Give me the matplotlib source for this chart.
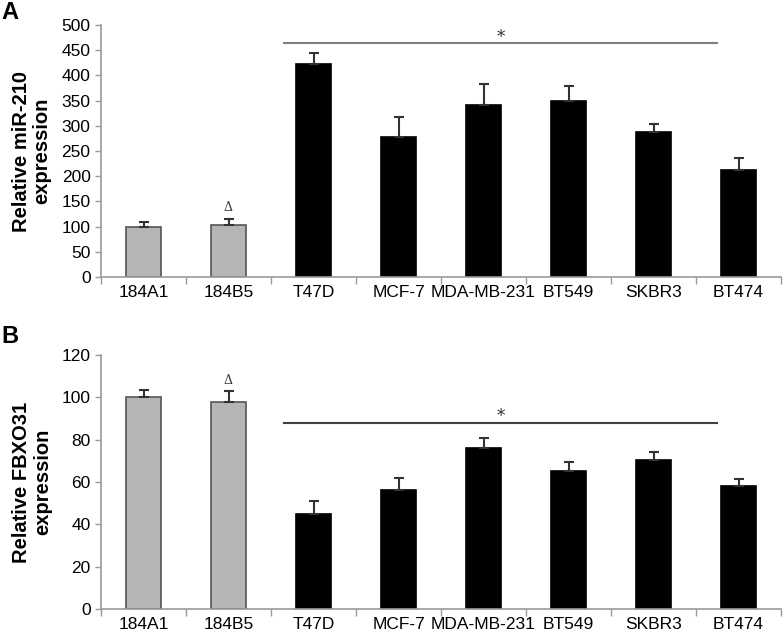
import matplotlib
matplotlib.use("Agg")
import matplotlib.pyplot as plt
import numpy as np

plt.rcParams["font.family"] = ["Liberation Sans", "DejaVu Sans"]

cell_lines = ["184A1", "184B5", "T47D", "MCF-7", "MDA-MB-231", "BT549", "SKBR3", "BT474"]
is_normal = [True, True, False, False, False, False, False, False]

mir210_mean = [100, 103, 423, 278, 341, 349, 287, 212]
mir210_err = [10, 12, 21, 39, 42, 30, 16, 25]

fbxo31_mean = [100, 98, 45, 56, 76, 65, 70.5, 58]
fbxo31_err = [3.5, 5, 6, 6, 5, 4.5, 3.5, 3.3]

panels = [
    dict(label="A", label_y=0.998, ylabel="Relative miR-210\nexpression", mean=mir210_mean,
         err=mir210_err, ymax=500, ystep=50, sig_y=464, star_y=476, delta_y=138,
         sig_color="#808080"),
    dict(label="B", label_y=0.487, ylabel="Relative FBXO31\nexpression", mean=fbxo31_mean,
         err=fbxo31_err, ymax=120, ystep=20, sig_y=88, star_y=91, delta_y=108,
         sig_color="#404040"),
]

fig = plt.figure(figsize=(7.83, 6.33), dpi=100)
rects = [[0.129, 0.5624, 0.8685, 0.3981], [0.129, 0.0379, 0.8685, 0.4013]]

x = np.arange(len(cell_lines))
colors = ["#b5b5b5" if n else "black" for n in is_normal]
edges = ["#555555" if n else "black" for n in is_normal]

for rect, p in zip(rects, panels):
    ax = fig.add_axes(rect)
    ax.bar(x, p["mean"], width=0.41, color=colors, edgecolor=edges, linewidth=1.2, zorder=2)
    ax.errorbar(x, p["mean"], yerr=[np.zeros(len(x)), p["err"]], fmt="none",
                ecolor="#333333", elinewidth=1.5, capsize=3.5, capthick=1.5, zorder=3)

    ax.set_xlim(-0.5, len(x) - 0.5)
    ax.set_ylim(0, p["ymax"])
    ax.set_yticks(np.arange(0, p["ymax"] + 1, p["ystep"]))
    ax.set_xticks(x)
    ax.set_xticklabels(cell_lines)
    ax.set_xticks(np.arange(-0.5, len(x) + 0.5, 1), minor=True)
    ax.tick_params(axis="x", which="major", length=0, labelsize=12.5, pad=6)
    ax.tick_params(axis="x", which="minor", length=5, color="#999999", width=1)
    ax.tick_params(axis="y", length=4, color="#999999", width=1, labelsize=12.5)

    for s in ["top", "right"]:
        ax.spines[s].set_visible(False)
    for s in ["left", "bottom"]:
        ax.spines[s].set_color("#999999")
        ax.spines[s].set_linewidth(1.2)

    ax.set_ylabel(p["ylabel"], fontsize=14.5, fontweight="bold", labelpad=7, linespacing=1.1)

    # significance bar over cancer lines
    ax.plot([1.65, 6.75], [p["sig_y"], p["sig_y"]], color=p["sig_color"], lw=1.5, clip_on=False)
    ax.text(4.2, p["star_y"], "*", ha="center", va="center", fontsize=12,
            family="DejaVu Serif", color="#333333")
    ax.text(1, p["delta_y"], "Δ", ha="center", va="center", fontsize=9,
            family="DejaVu Serif", color="#333333")

    fig.text(0.002, p["label_y"], p["label"], fontsize=17, fontweight="bold",
             va="top", ha="left")

fig.savefig("out.png", dpi=100)
